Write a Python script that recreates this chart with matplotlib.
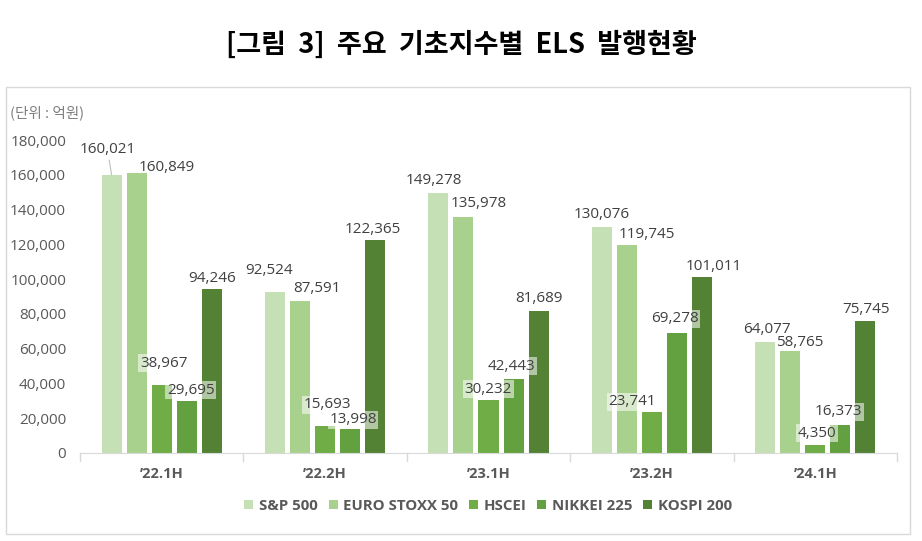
import matplotlib.pyplot as plt
from matplotlib.patches import Rectangle
import numpy as np

plt.rcParams['font.family'] = ['Open Sans', 'Noto Sans CJK KR', 'DejaVu Sans']

# 데이터 (단위: 억원)
periods = ['’22.1H', '’22.2H', '’23.1H', '’23.2H', '’24.1H']
series_names = ['S&P 500', 'EURO STOXX 50', 'HSCEI', 'NIKKEI 225', 'KOSPI 200']
sp500 = [160021, 92524, 149278, 130076, 64077]
eurostoxx = [160849, 87591, 135978, 119745, 58765]
hscei = [38967, 15693, 30232, 23741, 4350]
nikkei = [29695, 13998, 42443, 69278, 16373]
kospi = [94246, 122365, 81689, 101011, 75745]
yticks = list(range(0, 180001, 20000))

colors = ['#c5e0b4', '#a9d18e', '#70ad47', '#63a040', '#548235']

# 라벨 위치 조정 (픽셀, 막대 상단 기준)
label_dx = [
    [-4, 30, 2, 4, 0],
    [-6, 17, 2, 3, -2],
    [-5, 15, 0, -2, 0],
    [0, 20, -20, -2, 12],
    [2, 10, 2, -2, 1],
]
label_dy = [
    [25, 6, 22, 11, 11],
    [22, 12, 21, 9, 11],
    [13, 13, 11, 13, 12],
    [12, 10, 10, 14, 11],
    [12, 8, 12, 13, 12],
]

W, H = 922, 541
fig = plt.figure(figsize=(W / 100, H / 100), dpi=100)

# 바깥 테두리
fig.patches.append(Rectangle((6 / W, 1 - 534 / H), 904 / W, 447 / H,
                             transform=fig.transFigure, fill=False,
                             edgecolor='#d9d9d9', linewidth=1))

fig.text(0.5, 1 - 45 / H, '[그림  3]  주요  기초지수별  ELS  발행현황',
         ha='center', va='center', fontsize=19.5, fontweight='bold',
         family=['Noto Sans CJK KR', 'DejaVu Sans'], color='black')
fig.text(10 / W, 1 - 113 / H, '(단위 : 억원)', ha='left', va='center',
         fontsize=10.5, color='#7f7f7f', family=['Noto Sans CJK KR', 'DejaVu Sans'])

ax = fig.add_axes([80 / W, 1 - 453 / H, 817 / W, 313 / H])

data = [sp500, eurostoxx, hscei, nikkei, kospi]
x = np.arange(len(periods))
width = 20 / 163
step = 25 / 163

handles = []
for j, vals in enumerate(data):
    pos = x + (j - 2) * step
    bars = ax.bar(pos, vals, width, color=colors[j], label=series_names[j], zorder=2)
    handles.append(bars)
    for i, v in enumerate(vals):
        dx = label_dx[i][j]
        dy = label_dy[i][j]
        box = None
        if j in (2, 3):
            box = dict(boxstyle='square,pad=0.1', facecolor='white', alpha=0.55,
                       edgecolor='none')
        arrow = None
        if i == 0 and j == 0:
            arrow = dict(arrowstyle='-', color='#bfbfbf', lw=0.8,
                         shrinkA=0, shrinkB=0)
        ax.annotate(f'{v:,}', xy=(pos[i], v), xytext=(dx, dy),
                    textcoords='offset pixels', ha='center', va='center',
                    fontsize=11, color='#404040', bbox=box, arrowprops=arrow,
                    zorder=3)

ax.set_xlim(-0.5, len(periods) - 0.5)
ax.set_ylim(0, 180000)
ax.set_yticks(yticks)
ax.set_yticklabels([f'{t:,}' for t in yticks], fontsize=11, color='#595959')
ax.set_xticks(x)
ax.set_xticklabels(periods, fontsize=10.5, fontweight='bold', color='#595959')
ax.tick_params(axis='x', length=0, pad=10)
ax.tick_params(axis='y', length=0, pad=10)
for s in ['top', 'right', 'left']:
    ax.spines[s].set_visible(False)
ax.spines['bottom'].set_color('#d9d9d9')

# 항목 구분 눈금
for b in np.arange(-0.5, len(periods), 1.0):
    ax.plot([b, b], [0, -0.025], transform=ax.get_xaxis_transform(),
            color='#d9d9d9', lw=1, clip_on=False)

fig.legend(handles=handles, labels=series_names, loc='center',
           bbox_to_anchor=(488 / W, 1 - 506 / H), ncol=5, frameon=False,
           handlelength=0.6, handleheight=0.6, handletextpad=0.35,
           columnspacing=0.75, prop={'size': 10.8, 'weight': 'bold'},
           labelcolor='#595959')

fig.savefig('out.png', dpi=100)
